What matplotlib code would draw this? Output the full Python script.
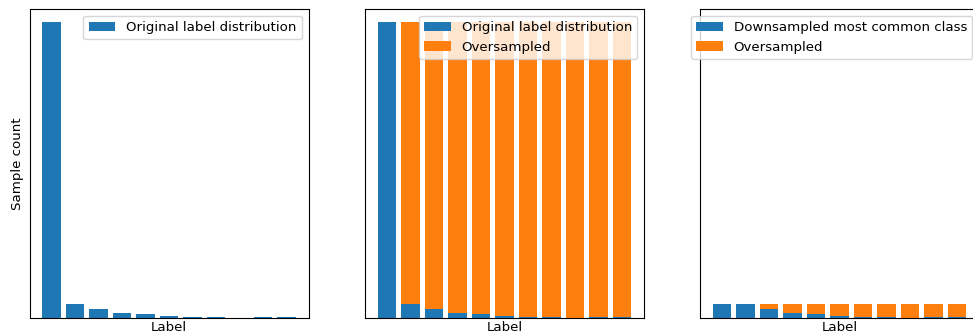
import matplotlib
matplotlib.use('Agg')
import matplotlib.pyplot as plt
import numpy as np

# samples per class label
labels = np.arange(11)
counts = np.array([1000, 48, 30, 17, 14, 8, 4, 4, 0, 4, 4])

# oversample every class up to the most common one
oversampled = counts.max() - counts

# downsample the most common class to the second most common, then oversample the rest
target = np.sort(counts)[-2]
downsampled = np.minimum(counts, target)
down_oversampled = target - downsampled

fs = 9.6

fig = plt.figure(figsize=(9.73, 3.34), dpi=100)
w = 279 / 973
b = 16 / 334
h = 309 / 334
ax1 = fig.add_axes([29.5 / 973, b, w, h])
ax2 = fig.add_axes([365 / 973, b, w, h], sharey=ax1)
ax3 = fig.add_axes([700 / 973, b, w, h], sharey=ax1)

ax1.bar(labels, counts, label='Original label distribution')
ax1.set_ylabel('Sample count', fontsize=fs)

ax2.bar(labels, counts, label='Original label distribution')
ax2.bar(labels, oversampled, bottom=counts, label='Oversampled')

ax3.bar(labels, downsampled, label='Downsampled most common class')
ax3.bar(labels, down_oversampled, bottom=downsampled, label='Oversampled')

ax1.set_ylim(0, counts.max() * 1.045)
for ax in (ax1, ax2, ax3):
    ax.set_xlabel('Label', fontsize=fs, labelpad=2)
    ax.set_xticks([])
    ax.set_yticks([])
    ax.legend(loc='upper right', fontsize=fs)

fig.savefig('out.png', dpi=100)
